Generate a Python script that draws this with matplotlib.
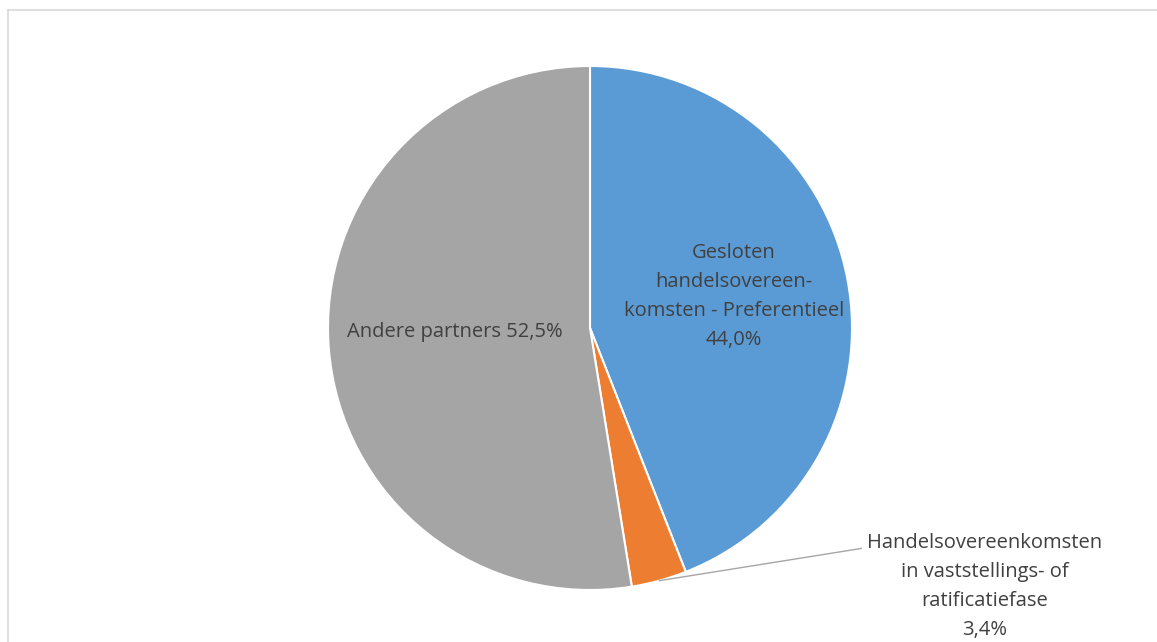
import numpy as np
import matplotlib.pyplot as plt
from matplotlib.lines import Line2D

plt.rcParams['font.family'] = ['Open Sans', 'DejaVu Sans']

# data
labels = ['Gesloten\nhandelsovereen-\nkomsten - Preferentieel',
          'Handelsovereenkomsten\nin vaststellings- of\nratificatiefase',
          'Andere partners']
values = [44.0, 3.4, 52.5]
colors = ['#5B9BD5', '#ED7D31', '#A5A5A5']

W, H = 1157, 642
fig = plt.figure(figsize=(W / 100, H / 100), dpi=100)

# light frame around the chart area
fig.add_artist(Line2D([8 / W, 8 / W], [0, 1 - 10 / H], color='#D9D9D9', lw=1.2))
fig.add_artist(Line2D([8 / W, 1], [1 - 10 / H, 1 - 10 / H], color='#D9D9D9', lw=1.2))

cx, cy, r = 590, 328, 262
ax = fig.add_axes([(cx - r) / W, (H - cy - r) / H, 2 * r / W, 2 * r / H])
wedges, _ = ax.pie(values, colors=colors, startangle=90, counterclock=False,
                   radius=1, wedgeprops=dict(edgecolor='white', linewidth=1.5))
ax.set_xlim(-1, 1)
ax.set_ylim(-1, 1)
ax.set_aspect('equal')
ax.axis('off')

txt = dict(color='#404040', fontsize=14.5, ha='center', va='center',
           linespacing=1.6)

def fmt(v):
    return ('%.1f%%' % v).replace('.', ',')

ax.text(0.55, 0.12, labels[0] + '\n' + fmt(values[0]), **txt)
ax.text(-0.515, -0.015, labels[2] + ' ' + fmt(values[2]), **txt)

# leader line for the small slice
w = wedges[1]
mid = np.deg2rad((w.theta1 + w.theta2) / 2)
ax.annotate(labels[1] + '\n' + fmt(values[1]),
            xy=(np.cos(mid), np.sin(mid)), xytext=(1.506, -0.985),
            textcoords='data', annotation_clip=False,
            arrowprops=dict(arrowstyle='-', color='#A6A6A6', lw=1,
                            shrinkA=2, shrinkB=0,
                            relpos=(0.0, 0.86)),
            **txt)

fig.savefig('out.png', dpi=100)
